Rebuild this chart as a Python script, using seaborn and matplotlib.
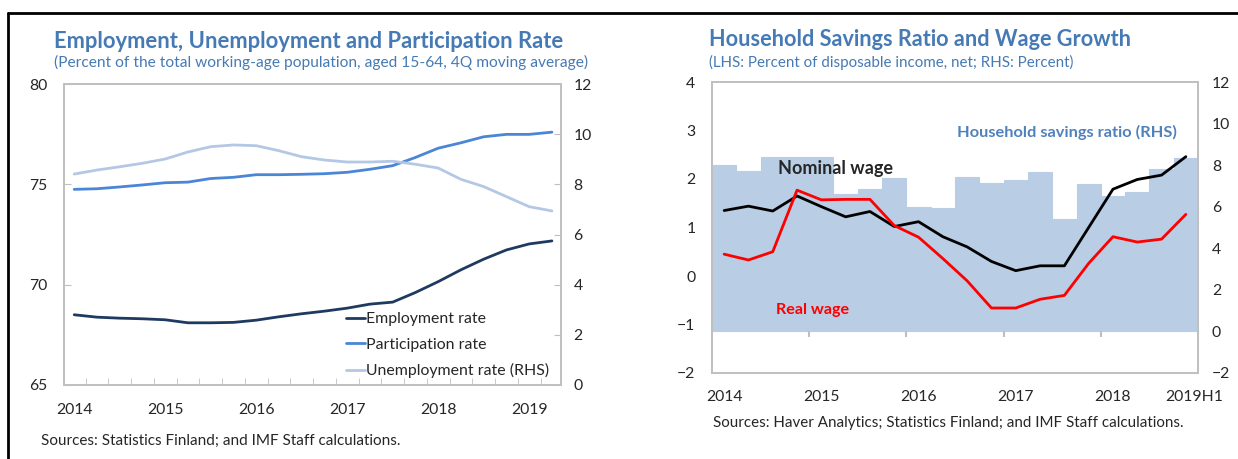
import numpy as np
import pandas as pd
import matplotlib.pyplot as plt
from matplotlib.lines import Line2D
import seaborn as sns

sns.set_style('white')
plt.rcParams['font.family'] = ['Lato', 'DejaVu Sans']

# ── data: left panel (quarterly, 2014Q1-2019Q2) ──
quarters_l = [f'{y}Q{q}' for y in range(2014, 2020) for q in range(1, 5)][:22]
employment = [68.50, 68.38, 68.33, 68.30, 68.25, 68.10, 68.10, 68.12, 68.23, 68.40, 68.55,
              68.68, 68.83, 69.03, 69.13, 69.61, 70.15, 70.74, 71.27, 71.73, 72.03, 72.18]
participation = [74.75, 74.78, 74.87, 74.97, 75.08, 75.11, 75.29, 75.35, 75.48, 75.48, 75.50,
                 75.53, 75.60, 75.75, 75.93, 76.34, 76.80, 77.07, 77.37, 77.49, 77.49, 77.60]
unemployment = [8.41, 8.57, 8.70, 8.84, 9.01, 9.29, 9.50, 9.57, 9.54, 9.34, 9.10,
                8.97, 8.89, 8.89, 8.92, 8.80, 8.65, 8.20, 7.91, 7.51, 7.11, 6.94]
years_l = ['2014', '2015', '2016', '2017', '2018', '2019']

# ── data: right panel (quarterly, 2014Q1-2018Q4) ──
quarters_r = [f'{y}Q{q}' for y in range(2014, 2019) for q in range(1, 5)]
savings = [8.00, 7.71, 8.40, 8.40, 8.40, 6.59, 6.85, 7.39, 6.00, 5.95,
           7.42, 7.15, 7.28, 7.66, 5.39, 7.07, 6.52, 6.70, 7.82, 8.35]
nominal = [1.35, 1.44, 1.34, 1.65, 1.43, 1.22, 1.33, 1.02, 1.12, 0.81,
           0.60, 0.30, 0.11, 0.21, 0.21, 1.00, 1.79, 1.99, 2.08, 2.46]
real = [0.45, 0.33, 0.50, 1.77, 1.57, 1.58, 1.58, 1.04, 0.80, 0.36,
        -0.10, -0.66, -0.66, -0.48, -0.40, 0.26, 0.81, 0.70, 0.76, 1.27]
years_r = ['2014', '2015', '2016', '2017', '2018', '2019H1']

# colours
TITLE_C = '#467AB4'
EMP_C = '#1F3A60'
PART_C = '#4A86D6'
UNEMP_C = '#B4C8E6'
BAR_C = '#B9CDE5'
FRAME_C = '#BFBFBF'

W, H = 1238, 459
fig = plt.figure(figsize=(W / 100, H / 100), dpi=100)


def box(l, t, r, b):
    return [l / W, 1 - b / H, (r - l) / W, (b - t) / H]


def style_frame(ax):
    for s in ax.spines.values():
        s.set_color(FRAME_C)
        s.set_linewidth(1.2)


# ─────────────────────────────────────────────
# LEFT PANEL
# ─────────────────────────────────────────────
axL = fig.add_axes(box(64, 84, 561, 385))
sns.lineplot(x=quarters_l, y=employment, ax=axL, color=EMP_C, lw=2, sort=False)
sns.lineplot(x=quarters_l, y=participation, ax=axL, color=PART_C, lw=2, sort=False)
axL2 = axL.twinx()
sns.lineplot(x=quarters_l, y=unemployment, ax=axL2, color=UNEMP_C, lw=2, sort=False)

axL.set_ylim(65, 80)
axL.set_yticks([65, 70, 75, 80])
axL2.set_ylim(0, 12)
axL2.set_yticks(range(0, 13, 2))
axL.set_xlim(-0.45, 21.4)
axL.set_xticks(np.arange(0, 22, 4))
axL.set_xticklabels(years_l)
axL.set_xticks(np.arange(0.5, 21, 1), minor=True)
axL.tick_params(axis='x', which='major', length=0, pad=13, labelsize=11.3)
axL.tick_params(axis='x', which='minor', direction='in', length=5, color=FRAME_C, bottom=True)
axL.tick_params(axis='y', direction='in', length=5, color=FRAME_C, pad=12, labelsize=11.3, left=True)
axL2.tick_params(axis='y', direction='in', length=5, color=FRAME_C, pad=9, labelsize=11.3, right=True)
for a in (axL, axL2):
    a.set_xlabel('')
    a.set_ylabel('')
    style_frame(a)

handles = [Line2D([], [], color=EMP_C, lw=2),
           Line2D([], [], color=PART_C, lw=2),
           Line2D([], [], color=UNEMP_C, lw=2)]
axL.legend(handles, ['Employment rate', 'Participation rate', 'Unemployment rate (RHS)'],
           loc='lower right', bbox_to_anchor=(1.005, -0.025), frameon=False, fontsize=11.4,
           handlelength=1.2, handletextpad=0.1, labelspacing=0.72)

fig.text(54 / W, 1 - 42 / H, 'Employment, Unemployment and Participation Rate',
         color=TITLE_C, fontsize=15.8, fontweight='bold', va='center')
fig.text(54 / W, 1 - 62 / H,
         '(Percent of the total working-age population, aged 15-64, 4Q moving average)',
         color=TITLE_C, fontsize=11.2, va='center')
fig.text(41 / W, 1 - 441 / H, 'Sources: Statistics Finland; and IMF Staff calculations.',
         fontsize=11, va='center')

# ─────────────────────────────────────────────
# RIGHT PANEL
# ─────────────────────────────────────────────
axB = fig.add_axes(box(712, 82, 1198, 373))
sns.barplot(x=quarters_r, y=savings, ax=axB, color=BAR_C, width=1, saturation=1,
            edgecolor=BAR_C, linewidth=0.8)
axW = axB.twinx()
sns.lineplot(x=quarters_r, y=nominal, ax=axW, color='black', lw=2, sort=False)
sns.lineplot(x=quarters_r, y=real, ax=axW, color='#FF0000', lw=2, sort=False)

axB.set_ylim(-2, 12)
axB.set_yticks(range(-2, 13, 2))
axW.set_ylim(-2, 4)
axW.set_yticks(range(-2, 5))
axB.set_xlim(-0.5, 19.5)
axB.set_xticks([0, 4, 8, 12, 16, 19.35])
axB.set_xticklabels(years_r)
axB.yaxis.set_ticks_position('right')
axB.yaxis.set_label_position('right')
axW.yaxis.set_ticks_position('left')
axW.yaxis.set_label_position('left')
axB.tick_params(axis='x', length=0, pad=12, labelsize=11.3)
axB.tick_params(axis='y', length=0, pad=10, labelsize=11.3)
axW.tick_params(axis='y', length=0, pad=12, labelsize=11.3)
for a in (axB, axW):
    a.set_xlabel('')
    a.set_ylabel('')
    style_frame(a)

# year-boundary ticks hanging under the bars
axB.vlines([3.5, 7.5, 11.5, 15.5], -0.25, 0, color=FRAME_C, lw=1.5)

axW.text(2.22, 2.22, 'Nominal wage', fontsize=13, fontweight='bold', va='center')
axW.text(2.12, -0.70, 'Real wage', fontsize=11.6, fontweight='bold', color='#FF0000', va='center')
axB.text(18.64, 9.58, 'Household savings ratio (RHS)', fontsize=11.8, fontweight='bold',
         color='#4F81BD', ha='right', va='center')

fig.text(709 / W, 1 - 40 / H, 'Household Savings Ratio and Wage Growth',
         color=TITLE_C, fontsize=15.6, fontweight='bold', va='center')
fig.text(709 / W, 1 - 62 / H, '(LHS: Percent of disposable income, net; RHS: Percent)',
         color=TITLE_C, fontsize=10.9, va='center')
fig.text(713 / W, 1 - 423 / H,
         'Sources: Haver Analytics; Statistics Finland; and IMF Staff calculations.',
         fontsize=10.9, va='center')

# outer frame lines (top and left)
fig.add_artist(Line2D([8 / W, 1], [1 - 13 / H, 1 - 13 / H], color='black', lw=2,
                      transform=fig.transFigure))
fig.add_artist(Line2D([8 / W, 8 / W], [0, 1 - 13 / H], color='black', lw=2,
                      transform=fig.transFigure))

fig.savefig('out.png', dpi=100)
